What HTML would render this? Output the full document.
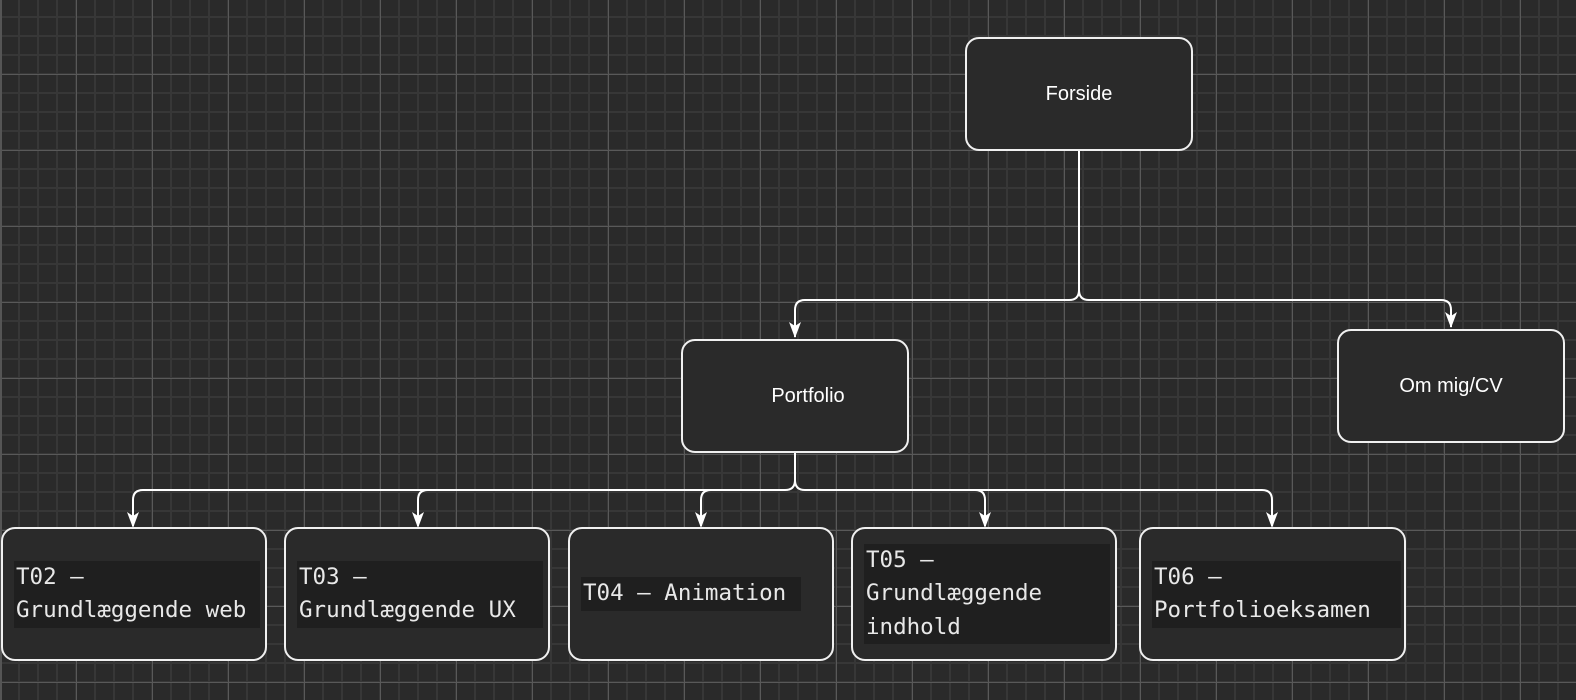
<!DOCTYPE html>
<html><head><meta charset="utf-8"><style>
html,body{margin:0;padding:0}
body{width:1576px;height:700px;overflow:hidden;background:#2a2a2a;position:relative;
background-image:
linear-gradient(to right,#595959 1px,transparent 1px),
linear-gradient(to bottom,#595959 1px,transparent 1px),
linear-gradient(to right,#373737 2px,transparent 2px),
linear-gradient(to bottom,#373737 2px,transparent 2px);
background-size:76px 76px,76px 76px,19px 19px,19px 19px;
background-position:76px 74px,76px 74px,18px 16px,18px 16px;}
.b{position:absolute;box-sizing:border-box;border:2px solid #f0f0f0;border-radius:14px;background:#2a2a2a;color:#fff;
font-family:"Liberation Sans",sans-serif;font-size:20px;display:flex;align-items:center;justify-content:center}
.m{justify-content:flex-start;padding-left:11px}
.m span{font-family:"DejaVu Sans Mono","Liberation Mono",monospace;font-size:22.5px;color:#e8e8e8;background:#1f1f1f;line-height:33.5px;padding:0 2px 0 2px;display:block;width:240px;white-space:nowrap}
svg{position:absolute;left:0;top:0}
</style></head><body>
<div style="position:absolute;left:0;top:0;width:2px;height:700px;background:#555"></div>
<svg width="1576" height="700">
<g stroke="#fff" stroke-width="2" fill="none">
<path d="M1079 150 V290 Q1079 300 1069 300 H805 Q795 300 795 310 V337"/>
<path d="M1079 290 Q1079 300 1089 300 H1441 Q1451 300 1451 310 V327"/>
<path d="M795 452 V480 Q795 490 785 490 H143 Q133 490 133 500 V526"/>
<path d="M428 490 Q418 490 418 500 V526"/>
<path d="M711 490 Q701 490 701 500 V526"/>
<path d="M795 480 Q795 490 805 490 H1262 Q1272 490 1272 500 V526"/>
<path d="M975 490 Q985 490 985 500 V526"/>
</g>
<g fill="#fff">
<path d="M789 322 L795 338 L801 322 L795 326Z"/>
<path d="M1445 312 L1451 328 L1457 312 L1451 316Z"/>
<path d="M127 512 L133 528 L139 512 L133 516Z"/>
<path d="M412 512 L418 528 L424 512 L418 516Z"/>
<path d="M695 512 L701 528 L707 512 L701 516Z"/>
<path d="M979 512 L985 528 L991 512 L985 516Z"/>
<path d="M1266 512 L1272 528 L1278 512 L1272 516Z"/>
</g>
</svg>
<div class="b" style="left:965px;top:37px;width:228px;height:114px">Forside</div>
<div class="b" style="left:681px;top:339px;width:228px;height:114px;padding-left:26px">Portfolio</div>
<div class="b" style="left:1337px;top:329px;width:228px;height:114px">Om mig/CV</div>
<div class="b m" style="left:1px;top:527px;width:266px;height:134px"><span style="width:242px">T02 –<br>Grundlæggende web</span></div>
<div class="b m" style="left:284px;top:527px;width:266px;height:134px"><span style="width:242px">T03 –<br>Grundlæggende UX</span></div>
<div class="b m" style="left:568px;top:527px;width:266px;height:134px"><span style="width:216px">T04 – Animation</span></div>
<div class="b m" style="left:851px;top:527px;width:266px;height:134px"><span style="width:242px">T05 –<br>Grundlæggende<br>indhold</span></div>
<div class="b m" style="left:1139px;top:527px;width:267px;height:134px"><span style="width:245px">T06 –<br>Portfolioeksamen</span></div>
</body></html>
